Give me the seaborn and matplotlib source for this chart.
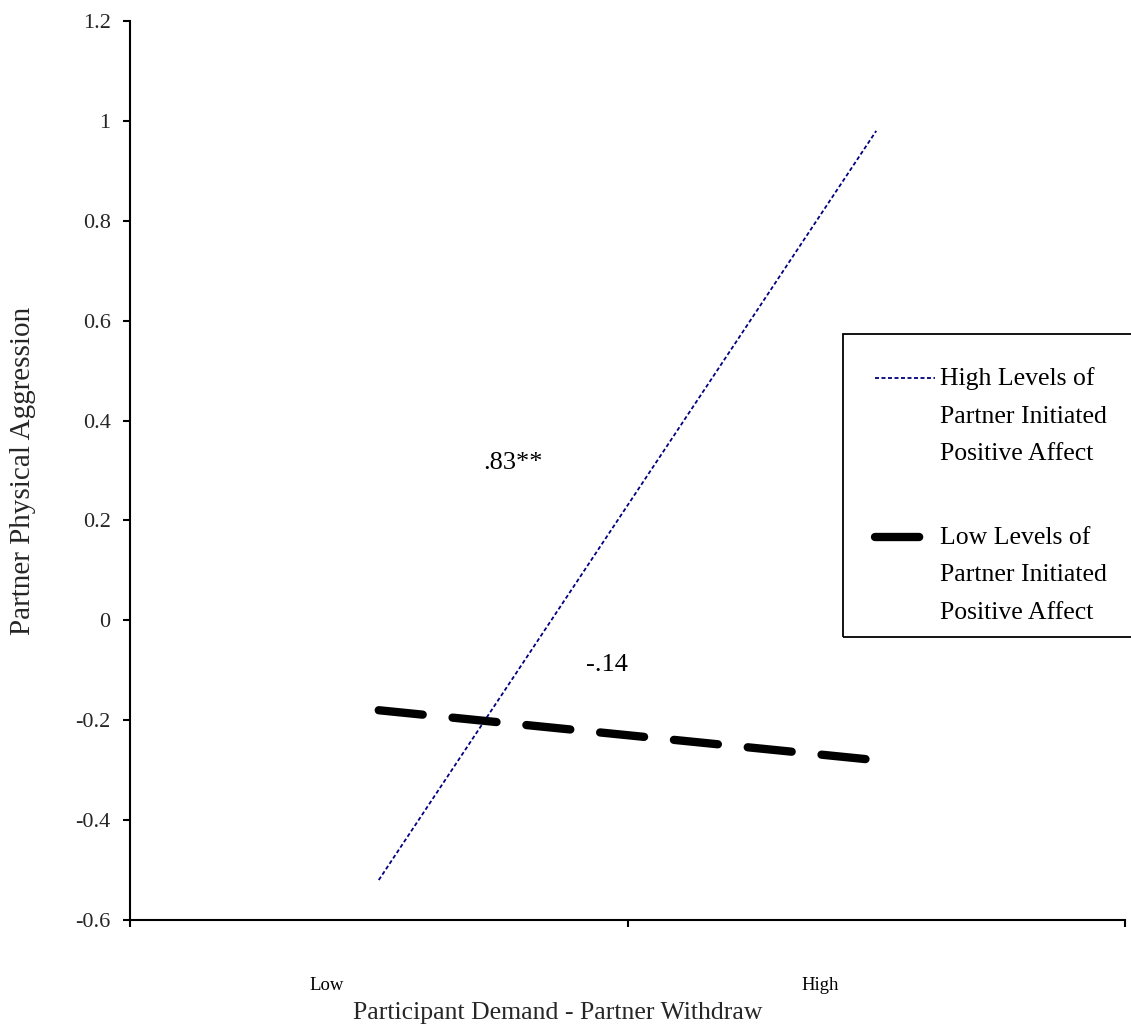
import matplotlib
matplotlib.use("Agg")
import matplotlib.pyplot as plt
import matplotlib.transforms as mtransforms
from matplotlib.legend_handler import HandlerLine2D
from matplotlib.patches import Rectangle
import seaborn as sns
import pandas as pd

# ---- data ----
x_levels = [0.5, 1.5]                       # Low / High demand-withdraw
high_pa = [-0.52, 0.98]                     # High partner-initiated positive affect
low_pa = [-0.18, -0.28]                     # Low partner-initiated positive affect
series_labels = ["High Levels of\nPartner Initiated\nPositive Affect",
                 "Low Levels of\nPartner Initiated\nPositive Affect"]
y_ticks = [-0.6, -0.4, -0.2, 0, 0.2, 0.4, 0.6, 0.8, 1.0, 1.2]
y_tick_labels = ["-0.6", "-0.4", "-0.2", "0", "0.2", "0.4", "0.6", "0.8", "1", "1.2"]
x_ticks = [0, 1, 2]
slope_labels = [".83**", "-.14"]
slope_pos = [(0.71, 0.315), (0.917, -0.09)]
x_cat_labels = ["Low", "High"]
x_cat_pos = [0.396, 1.387]

sns.set_theme(style="white")
plt.rcParams['font.family'] = ['Liberation Serif', 'DejaVu Serif']
plt.rcParams['text.color'] = 'black'

W, H = 1131, 1032
LEG_FS = 18.5
LEG_LS = 1.915
LINE_PT = 38 * 0.72   # legend text line spacing in points


class TopLineHandler(HandlerLine2D):
    """Place the legend line at the first text line of a multi-line label."""
    def create_artists(self, legend, orig_handle, xdescent, ydescent, width,
                       height, fontsize, trans):
        arts = super().create_artists(legend, orig_handle, xdescent, ydescent,
                                      width, height, fontsize, trans)
        off = mtransforms.Affine2D().translate(0, LINE_PT)
        for a in arts:
            a.set_transform(off + trans)
        return arts


fig = plt.figure(figsize=(W / 100, H / 100), dpi=100)
ax = fig.add_axes([130/W, 1-920/H, 995/W, 899/H])

df_high = pd.DataFrame({"x": x_levels, "y": high_pa})
df_low = pd.DataFrame({"x": x_levels, "y": low_pa})

sns.lineplot(data=df_high, x="x", y="y", ax=ax, color="#000080", lw=1.3,
             label=series_labels[0])
sns.lineplot(data=df_low, x="x", y="y", ax=ax, color="black", lw=6.0,
             label=series_labels[1])
lh, ll = ax.get_lines()[0], ax.get_lines()[1]
lh.set_dashes((2.2, 1.4))
ll.set_dashes((5.3, 3.6))
ll.set_dash_capstyle("round")
ll.set_solid_capstyle("round")

ax.set_xlim(0, 2)
ax.set_ylim(-0.6, 1.2)
ax.set_yticks(y_ticks)
ax.set_yticklabels(y_tick_labels)
ax.set_xticks(x_ticks)
ax.set_xticklabels([])
for s in ["top", "right"]:
    ax.spines[s].set_visible(False)
for s in ["left", "bottom"]:
    ax.spines[s].set_color("black")
    ax.spines[s].set_linewidth(1.5)
ax.tick_params(axis="both", direction="out", length=5, width=1.5, color="black",
               left=True, bottom=True, labelsize=16, pad=9)
ax.grid(False)

ax.set_xlabel("Participant Demand - Partner Withdraw", fontsize=18.5)
ax.xaxis.set_label_coords(0.43, -0.091)
ax.set_ylabel("Partner Physical Aggression", fontsize=21)
ax.yaxis.set_label_coords(-0.094, 0.5)

for t, (px, py) in zip(slope_labels, slope_pos):
    ax.text(px, py, t, fontsize=19, ha="left", va="center")

for t, px in zip(x_cat_labels, x_cat_pos):
    ax.text(px, -0.732, t, fontsize=13.5, ha="center", va="center")

# legend frame (extends past the right edge, as in the reference)
fig.patches.append(Rectangle((843/W, 1-637/H), 400/W, 303/H,
                             transform=fig.transFigure, facecolor="none",
                             edgecolor="black", lw=1.3, zorder=2))

leg = ax.legend(loc="upper left", bbox_to_anchor=(875/W, 1-367/H),
                bbox_transform=fig.transFigure, fontsize=LEG_FS, frameon=False,
                handlelength=2.33, handletextpad=0.2, labelspacing=2.4,
                borderpad=0, borderaxespad=0,
                handler_map={matplotlib.lines.Line2D: TopLineHandler()})
for t in leg.get_texts():
    t.set_linespacing(LEG_LS)

fig.savefig("out.png", dpi=100, facecolor="white")
